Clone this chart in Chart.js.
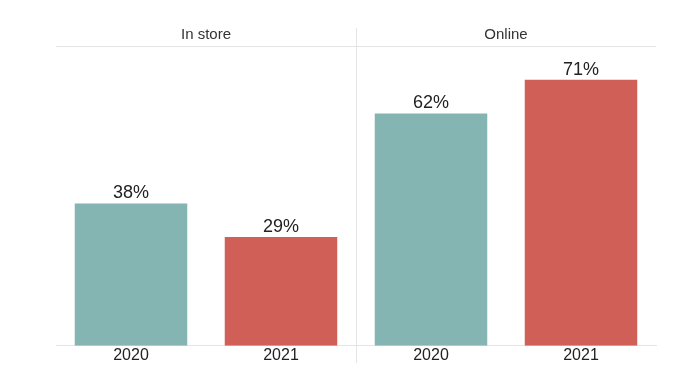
<!DOCTYPE html>
<html>
<head>
<meta charset="utf-8">
<script src="https://cdn.jsdelivr.net/npm/chart.js@4"></script>
<style>
  html, body { margin: 0; padding: 0; background: #fff; }
  #wrap { width: 692px; height: 391px; position: relative; }
</style>
</head>
<body>
<div id="wrap"><canvas id="chart"></canvas></div>
<script>
// data
const years = ['2020', '2021', '2020', '2021'];
const panels = ['In store', 'Online'];
const shares = [38, 29, 62, 71];
const barColors = ['#84b5b3', '#d05f58', '#84b5b3', '#d05f58'];

// panel titles, divider, top rule, value labels
const decor = {
  id: 'decor',
  afterDraw(chart) {
    const ctx = chart.ctx;
    const area = chart.chartArea;
    const xs = chart.scales.x;
    ctx.save();
    ctx.strokeStyle = '#e4e4e4';
    ctx.lineWidth = 1;
    ctx.beginPath();
    ctx.moveTo(area.left, area.top + 0.5);
    ctx.lineTo(area.right, area.top + 0.5);
    ctx.stroke();
    const mid = Math.round((xs.getPixelForValue(1) + xs.getPixelForValue(2)) / 2) + 0.5;
    ctx.beginPath();
    ctx.moveTo(mid, 28);
    ctx.lineTo(mid, area.bottom + 17);
    ctx.stroke();

    ctx.fillStyle = '#333';
    ctx.font = '15px "Liberation Sans", Arial, sans-serif';
    ctx.textAlign = 'center';
    ctx.textBaseline = 'middle';
    panels.forEach((p, i) => {
      const cx = (xs.getPixelForValue(i * 2) + xs.getPixelForValue(i * 2 + 1)) / 2;
      ctx.fillText(p, cx, 35);
    });

    ctx.fillStyle = '#222';
    ctx.font = '18px "Liberation Sans", Arial, sans-serif';
    ctx.textBaseline = 'alphabetic';
    chart.getDatasetMeta(0).data.forEach((bar, i) => {
      ctx.fillText(shares[i] + '%', bar.x, bar.y - 5);
    });
    ctx.restore();
  }
};

new Chart(document.getElementById('chart'), {
  type: 'bar',
  data: {
    labels: years,
    datasets: [{
      data: shares,
      backgroundColor: barColors,
      barPercentage: 0.75,
      categoryPercentage: 1
    }]
  },
  options: {
    responsive: true,
    maintainAspectRatio: false,
    animation: false,
    layout: { padding: { left: 56, right: 36, top: 46, bottom: 26 } },
    plugins: { legend: { display: false }, tooltip: { enabled: false } },
    scales: {
      y: { display: false, min: 0, max: 80 },
      x: {
        grid: { display: false, drawTicks: false },
        border: { display: true, color: '#e4e4e4', width: 1 },
        ticks: {
          padding: 0,
          color: '#222',
          font: { family: '"Liberation Sans", Arial, sans-serif', size: 16 }
        }
      }
    }
  },
  plugins: [decor]
});
</script>
</body>
</html>
